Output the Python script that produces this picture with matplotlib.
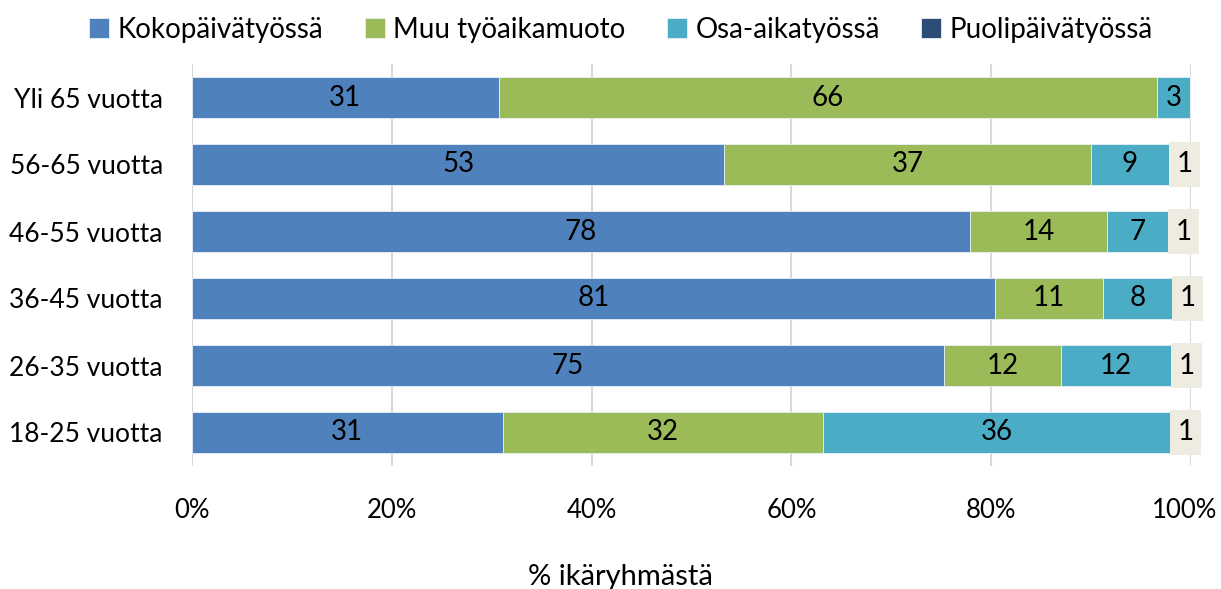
import matplotlib.pyplot as plt
import matplotlib.transforms as mtransforms
from matplotlib.patches import Rectangle
import numpy as np

plt.rcParams['font.family'] = ['Lato', 'DejaVu Sans']

# age groups, top to bottom as in the chart
groups = ['Yli 65 vuotta', '56-65 vuotta', '46-55 vuotta',
          '36-45 vuotta', '26-35 vuotta', '18-25 vuotta']

# segment widths (% of age group)
koko = [30.7, 53.3, 77.9, 80.4, 75.3, 31.1]
muu = [65.9, 36.7, 13.7, 10.8, 11.7, 32.1]
osa = [3.3, 7.8, 6.1, 6.9, 11.0, 34.7]
puoli = [0.0, 2.2, 2.3, 1.9, 2.0, 2.1]

# data labels as printed on the bars
koko_lab = ['31', '53', '78', '81', '75', '31']
muu_lab = ['66', '37', '14', '11', '12', '32']
osa_lab = ['3', '9', '7', '8', '12', '36']
puoli_lab = ['', '1', '1', '1', '1', '1']

series = ['Kokopäivätyössä', 'Muu työaikamuoto', 'Osa-aikatyössä', 'Puolipäivätyössä']
colors = ['#4F81BD', '#9BBB59', '#4BACC6', '#2C4D75']
FS = 20
TICK_FS = 19

fig = plt.figure(figsize=(12.21, 5.89), dpi=100)
ax = fig.add_axes([192 / 1221, 123 / 589, 999 / 1221, 402 / 589])

y = np.arange(len(groups))
height = 0.61
left = np.zeros(len(groups))
handles = []
for vals, labs, col, name in zip([koko, muu, osa, puoli],
                                 [koko_lab, muu_lab, osa_lab, puoli_lab],
                                 colors, series):
    bars = ax.barh(y, vals, left=left, height=height, color=col,
                   edgecolor='#E8EEF7', linewidth=0.6, label=name, zorder=2)
    handles.append(bars)
    if name != 'Puolipäivätyössä':
        for yi, l, v, lab in zip(y, left, vals, labs):
            if lab:
                ax.text(l + v / 2, yi, lab, ha='center', va='center',
                        fontsize=FS, color='black', zorder=4)
    else:
        # label box sits at the end of the bar
        for yi, l, lab in zip(y, left, labs):
            if lab:
                box = Rectangle((l, yi - 0.33), 3.1, 0.66, facecolor='#EEECE1',
                                edgecolor='none', clip_on=False, zorder=3)
                ax.add_patch(box)
                ax.text(l + 1.55, yi, lab, ha='center', va='center',
                        fontsize=FS, color='black', zorder=4, clip_on=False)
    left = left + np.array(vals)

ax.set_xlim(0, 100)
ax.set_ylim(len(groups) - 0.5, -0.5)
ax.set_xticks(np.arange(0, 101, 20))
ax.set_xticklabels([f'{t}%' for t in range(0, 101, 20)], fontsize=18.5)
ax.set_yticks(y)
ax.set_yticklabels(groups, fontsize=TICK_FS)
ax.tick_params(axis='both', length=0)
ax.tick_params(axis='x', pad=23)
ax.tick_params(axis='y', pad=21)
ax.grid(axis='x', color='#D9D9D9', linewidth=1.5, zorder=0)
ax.set_axisbelow(True)
for s in ax.spines.values():
    s.set_visible(False)

# nudge "100%" left so it stays inside the figure
last = ax.get_xticklabels()[-1]
last.set_transform(last.get_transform() +
                   mtransforms.ScaledTranslation(-6 / 100, 0, fig.dpi_scale_trans))

fig.text(620 / 1221, 1 - 577 / 589, '% ikäryhmästä', ha='center', va='center',
         fontsize=21)

fig.legend(handles=handles, loc='center', bbox_to_anchor=(621 / 1221, 1 - 30 / 589),
           ncol=4, frameon=False, fontsize=FS, handlelength=0.72,
           handleheight=0.72, handletextpad=0.3, columnspacing=1.5)

fig.savefig('out.png', dpi=100)
